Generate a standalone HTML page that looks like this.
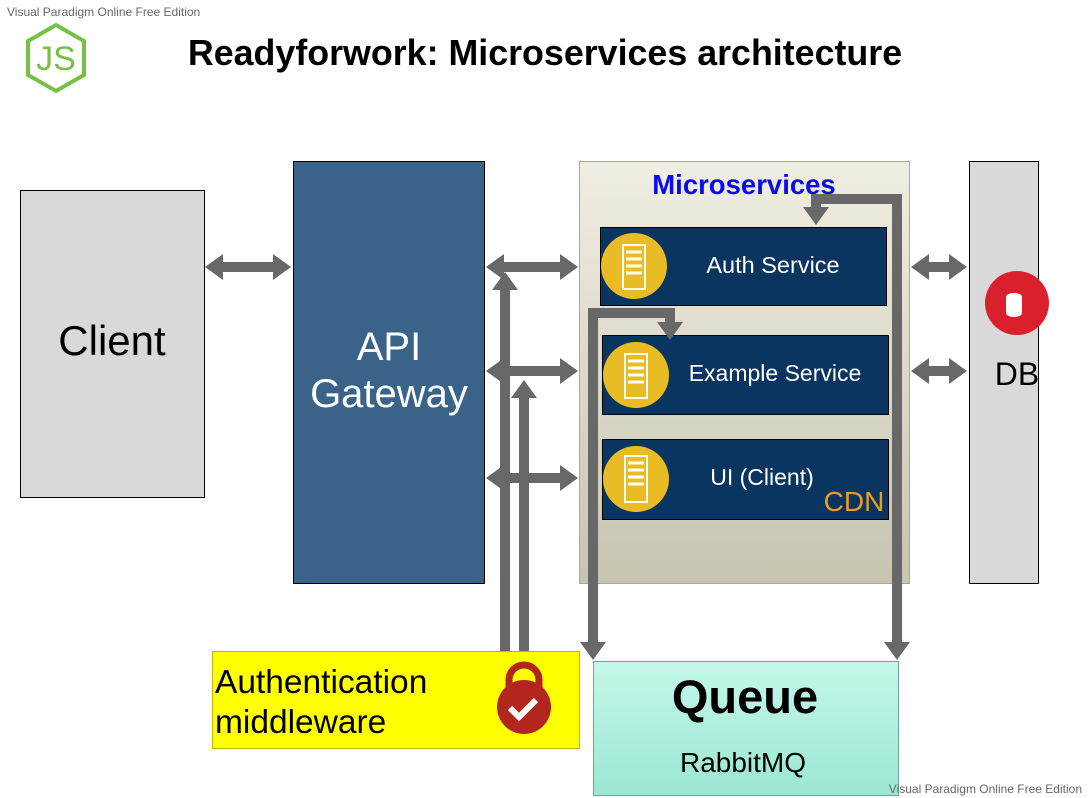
<!DOCTYPE html>
<html><head><meta charset="utf-8"><style>
html,body{margin:0;padding:0;background:#fff;}
svg{display:block;font-family:"Liberation Sans",Arial,sans-serif;}
</style></head><body>
<svg width="1088" height="798" viewBox="0 0 1088 798" xmlns="http://www.w3.org/2000/svg">
<defs>
<linearGradient id="ms" x1="0" y1="0" x2="0" y2="1"><stop offset="0" stop-color="#efeee2"/><stop offset="1" stop-color="#c7c5b0"/></linearGradient>
<linearGradient id="q" x1="0" y1="0" x2="0" y2="1"><stop offset="0" stop-color="#c4f7ea"/><stop offset="1" stop-color="#9ae7d3"/></linearGradient>
</defs>
<text x="7" y="16" font-size="12" fill="#666">Visual Paradigm Online Free Edition</text>
<!-- JS logo -->
<polygon points="56,25 84,41 84,75 56,91 28,75 28,41" fill="none" stroke="#76c043" stroke-width="4"/>
<text x="56" y="70" font-size="34" fill="#76c043" text-anchor="middle">JS</text>
<text x="545" y="65" font-size="35.8" font-weight="bold" text-anchor="middle" fill="#000">Readyforwork: Microservices architecture</text>

<rect x="20.5" y="190.5" width="184" height="307" fill="#d9d9d9" stroke="#000"/>
<text x="112" y="355" font-size="42" text-anchor="middle">Client</text>

<rect x="293.5" y="161.5" width="191" height="422" fill="#3a6389" stroke="#000"/>
<text x="389" y="360" font-size="40" fill="#fff" text-anchor="middle">API</text>
<text x="389" y="407" font-size="40" fill="#fff" text-anchor="middle">Gateway</text>

<rect x="579.5" y="161.5" width="330" height="422" fill="url(#ms)" stroke="#aaa886"/>
<text x="744" y="194" font-size="27.5" font-weight="bold" fill="#0a0af0" text-anchor="middle">Microservices</text>

<rect x="969.5" y="161.5" width="69" height="422" fill="#d9d9d9" stroke="#000"/>
<circle cx="1017" cy="303" r="32" fill="#d9202c"/>
<ellipse cx="1014" cy="297" rx="8" ry="4" fill="#fff"/>
<rect x="1006" y="297" width="16" height="16" fill="#fff"/>
<ellipse cx="1014" cy="313" rx="8" ry="4" fill="#fff"/>
<text x="1017" y="385" font-size="32" text-anchor="middle">DB</text>

<!-- services -->
<g>
<rect x="600.5" y="227.5" width="286" height="78" fill="#0a3560" stroke="#000"/>
<circle cx="634" cy="266" r="33" fill="#e9bb25"/>
<rect x="623" y="245" width="22" height="44" fill="none" stroke="#fff" stroke-width="2"/>
<path d="M626,252h16M626,259h16M626,266h16M626,273h16" stroke="#fff" stroke-width="3"/>
<text x="773" y="273" font-size="23.5" fill="#fff" text-anchor="middle">Auth Service</text>
</g>
<g>
<rect x="602.5" y="335.5" width="286" height="79" fill="#0a3560" stroke="#000"/>
<circle cx="636" cy="375" r="33" fill="#e9bb25"/>
<rect x="625" y="354" width="22" height="44" fill="none" stroke="#fff" stroke-width="2"/>
<path d="M628,361h16M628,368h16M628,375h16M628,382h16" stroke="#fff" stroke-width="3"/>
<text x="775" y="381" font-size="23" fill="#fff" text-anchor="middle">Example Service</text>
</g>
<g>
<rect x="602.5" y="439.5" width="286" height="80" fill="#0a3560" stroke="#000"/>
<circle cx="636" cy="479" r="33" fill="#e9bb25"/>
<rect x="625" y="456" width="22" height="46" fill="none" stroke="#fff" stroke-width="2"/>
<path d="M628,463h16M628,470h16M628,477h16M628,484h16" stroke="#fff" stroke-width="3"/>
<text x="762" y="485" font-size="23" fill="#fff" text-anchor="middle">UI (Client)</text>
<text x="854" y="511" font-size="28" fill="#ef9d1c" text-anchor="middle">CDN</text>
</g>

<!-- auth middleware -->
<rect x="212.5" y="651.5" width="367" height="97" fill="#ffff00" stroke="#c8b400"/>
<text x="215" y="693" font-size="33.5">Authentication</text>
<text x="215" y="733" font-size="33.5">middleware</text>
<path d="M509,700 V680 a15,15 0 0 1 30,0 V700" fill="none" stroke="#b3261e" stroke-width="7"/>
<circle cx="524" cy="707" r="27" fill="#b3261e"/>
<path d="M510,708 l9,9 l17,-17" fill="none" stroke="#fff" stroke-width="6"/>

<!-- queue -->
<rect x="593.5" y="661.5" width="305" height="134" fill="url(#q)" stroke="#6aa898"/>
<text x="745" y="713" font-size="47" font-weight="bold" text-anchor="middle">Queue</text>
<text x="743" y="772" font-size="28" text-anchor="middle">RabbitMQ</text>
<text x="1082" y="793" font-size="12" fill="#666" text-anchor="end">Visual Paradigm Online Free Edition</text>

<!-- arrows -->
<g fill="#686868">
<polygon points="205,267 223,254 223,262 273,262 273,254 291,267 273,280 273,272 223,272 223,280"/>
<polygon points="486,267 504,254 504,262 560,262 560,254 578,267 560,280 560,272 504,272 504,280"/>
<polygon points="486,371 504,358 504,366 560,366 560,358 578,371 560,384 560,376 504,376 504,384"/>
<polygon points="486,478 504,465 504,473 560,473 560,465 578,478 560,491 560,483 504,483 504,491"/>
<polygon points="911,267 929,254 929,262 949,262 949,254 967,267 949,280 949,272 929,272 929,280"/>
<polygon points="911,371 929,358 929,366 949,366 949,358 967,371 949,384 949,376 929,376 929,384"/>
<polygon points="500,651 500,290 492,290 505,272 518,290 510,290 510,651"/>
<polygon points="519,651 519,398 511,398 524,380 537,398 529,398 529,651"/>
<polygon points="580,642 606,642 593,660"/>
<polygon points="657,322 683,322 670,340"/>
<polygon points="884,642 910,642 897,660"/>
<polygon points="803,207 829,207 816,225"/>
</g>
<g fill="none" stroke="#686868" stroke-width="10">
<polyline points="593,643 593,313 670,313 670,323"/>
<polyline points="897,643 897,199 816,199 816,208"/>
</g>
</svg>
</body></html>
